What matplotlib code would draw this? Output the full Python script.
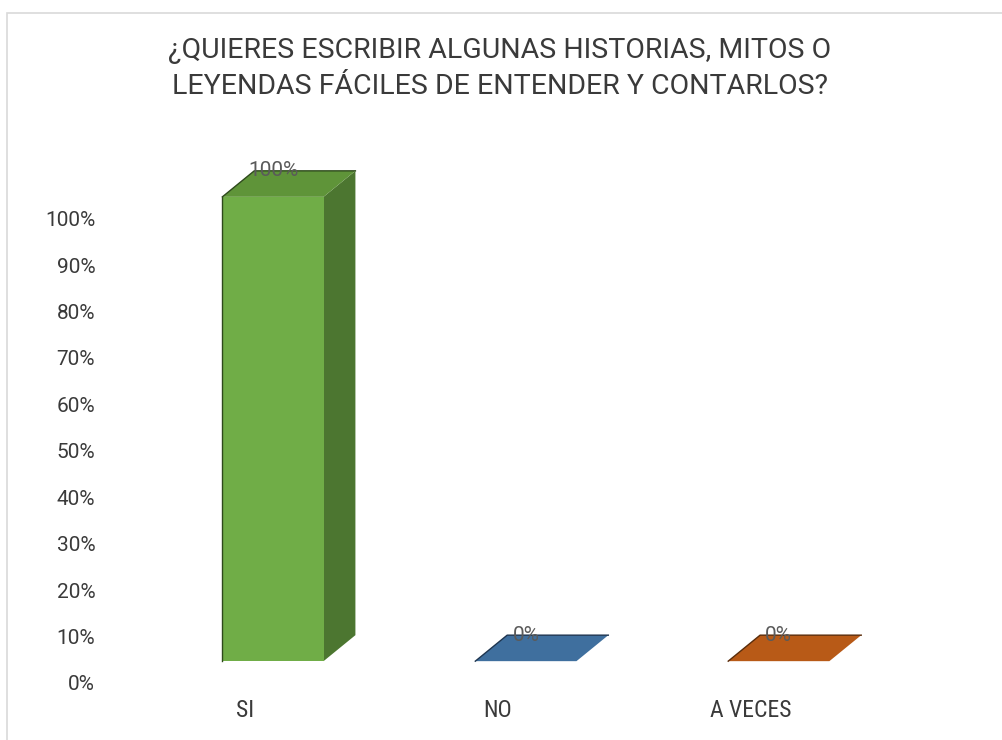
import numpy as np
import matplotlib
matplotlib.use('Agg')
import matplotlib.pyplot as plt
from matplotlib.patches import Polygon, Rectangle

# survey answers
categories = ['SI', 'NO', 'A VECES']
values = [1.00, 0.00, 0.00]
value_labels = ['100%', '0%', '0%']
yticks = [0.0, 0.1, 0.2, 0.3, 0.4, 0.5, 0.6, 0.7, 0.8, 0.9, 1.0]
ytick_labels = ['0%', '10%', '20%', '30%', '40%', '50%', '60%', '70%', '80%', '90%', '100%']
title = '¿QUIERES ESCRIBIR ALGUNAS HISTORIAS, MITOS O\nLEYENDAS FÁCILES DE ENTENDER Y CONTARLOS?'

# front, top, side, edge colours for each bar
front_cols = ['#70AD47', '#4A7EB0', '#D0691E']
top_cols = ['#5F9439', '#3F6F9E', '#B85A17']
side_cols = ['#4C7630', '#345C84', '#9C4C13']
edge_cols = ['#2E4A1C', '#1E3550', '#5A2C0A']

title_font = ['Roboto', 'DejaVu Sans']
label_font = ['Roboto Condensed', 'DejaVu Sans']
num_font = ['Roboto', 'DejaVu Sans']

fig = plt.figure(figsize=(10.03, 7.40), dpi=100)
fig.patch.set_facecolor('white')

# light chart border (runs off the right and bottom)
fig.patches.append(Rectangle((7 / 1003, -0.05), 1.2, 1 - 13 / 740 + 0.05,
                             transform=fig.transFigure, fill=False,
                             edgecolor='#D9D9D9', lw=1.2))

ax = fig.add_axes([0.1032, 0.0143, 0.875, 0.8157])
ax.set_xlim(-0.67, 2.8)
ax.set_ylim(-0.1, 1.2)
for s in ax.spines.values():
    s.set_visible(False)
ax.set_xticks([])
ax.set_yticks(yticks)
ax.set_yticklabels(ytick_labels, fontsize=15, color='#3A3A3A', family=num_font)
ax.tick_params(axis='y', length=0, pad=6)

half = 0.2     # half width of the front face
dx, dy = 0.126, 0.056   # fake depth
base = 0.047

for i, (cat, v) in enumerate(zip(categories, values)):
    x0, x1 = i - half, i + half
    y0, y1 = base, base + v
    if v > 0:
        # side and front faces
        ax.add_patch(Polygon([(x1, y0), (x1 + dx, y0 + dy), (x1 + dx, y1 + dy), (x1, y1)],
                             closed=True, facecolor=side_cols[i], edgecolor='none'))
        ax.add_patch(Rectangle((x0, y0), x1 - x0, y1 - y0, facecolor=front_cols[i],
                               edgecolor='none'))
        ax.plot([x0, x0], [y0, y1], color=edge_cols[i], lw=1)
    # top face
    ax.add_patch(Polygon([(x0, y1), (x1, y1), (x1 + dx, y1 + dy), (x0 + dx, y1 + dy)],
                         closed=True, facecolor=top_cols[i], edgecolor='none'))
    ax.plot([x0, x0 + dx, x1 + dx], [y1, y1 + dy, y1 + dy], color=edge_cols[i], lw=1)
    ax.text(i, y1 + dy, value_labels[i], ha='center', va='center', fontsize=15,
            color='#5A5A5A', family=num_font)
    ax.text(i - 0.11, -0.06, cat, ha='center', va='center', fontsize=17,
            color='#3A3A3A', family=label_font)

fig.text(0.4985, 0.907, title, ha='center', va='center', fontsize=20.5,
         color='#3A3A3A', family=title_font, linespacing=1.42)

fig.savefig('out.png', dpi=100)
